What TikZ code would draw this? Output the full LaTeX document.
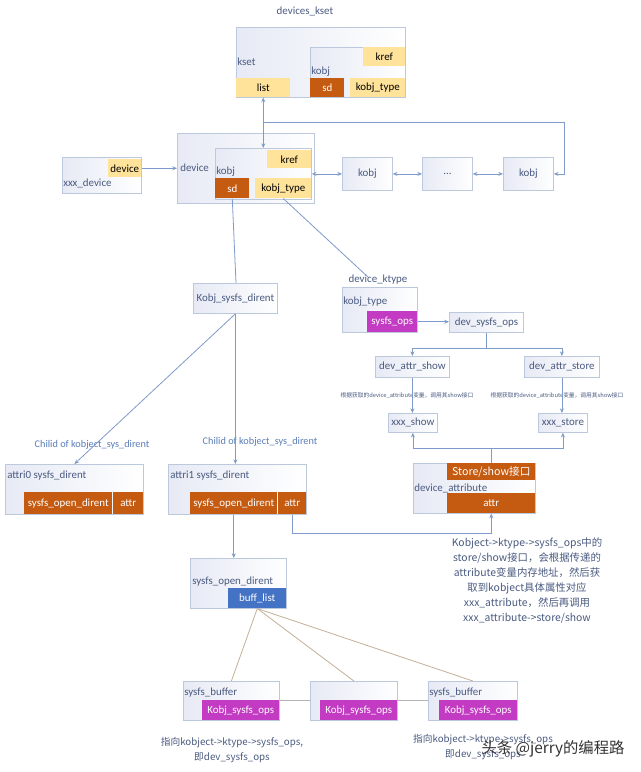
\documentclass[tikz,border=0pt]{standalone}
\usepackage{fontspec}
\setmainfont{Carlito}
\newfontfamily\cjk{Noto Sans CJK SC}
\usetikzlibrary{arrows.meta,calc}
\definecolor{boxline}{HTML}{BCC8DC}
\definecolor{boxl}{HTML}{E7EAF5}
\definecolor{ylw}{HTML}{FFE39B}
\definecolor{org}{HTML}{C55A11}
\definecolor{mag}{HTML}{C23BC2}
\definecolor{blu}{HTML}{4472C4}
\definecolor{lblc}{HTML}{4A5A80}
\definecolor{chc}{HTML}{5A7DB8}
\definecolor{connc}{HTML}{7E9BCB}
\definecolor{tanc}{HTML}{C2B197}
\definecolor{grayc}{HTML}{B4B4B4}
\newcommand\fs{\fontsize{8.2}{10}\selectfont}
\newcommand\myrect[7]{\node[#1,anchor=north west,inner sep=0pt,minimum width=#5*0.75pt,minimum height=#6*0.75pt] (#2) at (#3,#4) {#7};}
\tikzset{
  box/.style={draw=boxline,left color=boxl,right color=white,line width=0.6pt},
  ylwbox/.style={fill=ylw,text=black,font=\fs},
  orgbox/.style={fill=org,text=white,font=\fs},
  magbox/.style={fill=mag,text=white,font=\fs},
  blubox/.style={fill=blu,text=white,font=\fs},
  lbl/.style={text=lblc,anchor=west,inner sep=0pt,font=\fs},
  conn/.style={draw=connc,line width=0.6pt},
  tanline/.style={draw=tanc,line width=0.6pt},
  grayline/.style={draw=grayc,line width=0.8pt},
  >={Stealth[length=3.5pt,width=3pt]}
}
\begin{document}
\begin{tikzpicture}[x=0.75pt,y=-0.75pt]
\fill[white] (0,0) rectangle (640,772);
\useasboundingbox (0,0) rectangle (640,772);

% ---- devices_kset
\node[lbl,anchor=center] (title) at (305,11) {devices\_kset};
\myrect{box}{kset}{236}{27}{169}{70}{}
\myrect{ylwbox}{list}{236}{78}{54}{19}{list}
\myrect{box}{kobjA}{310}{47}{95}{50}{}
\myrect{ylwbox}{krefA}{363}{47}{42}{19}{kref}
\myrect{orgbox}{sdA}{310}{78}{34}{19}{sd}
\myrect{ylwbox}{ktA}{350}{78}{55}{19}{kobj\_type}
\node[lbl] (lkset) at (237,62) {kset};
\node[lbl] (lkobjA) at (311,72) {kobj};

% ---- device row
\myrect{box}{xxxdev}{62}{157}{79}{36}{}
\myrect{ylwbox}{devY}{108}{159}{33}{18}{device}
\node[lbl] (lxxx) at (63,183) {xxx\_device};

\myrect{box}{devO}{177}{133}{137}{70}{}
\myrect{box}{kobjB}{215}{148}{96}{51}{}
\myrect{ylwbox}{krefB}{267}{150}{44}{18}{kref}
\myrect{orgbox}{sdB}{215}{178}{34}{20}{sd}
\myrect{ylwbox}{ktB}{255}{178}{56}{20}{kobj\_type}
\node[lbl] (ldevice) at (180,168) {device};
\node[lbl] (lkobjB) at (216,172) {kobj};

\myrect{box}{kobj1}{342}{157}{50}{33}{\textcolor{lblc}{\fs kobj}}
\myrect{box}{dots}{422}{157}{50}{33}{\textcolor{lblc}{\fs ...}}
\myrect{box}{kobj3}{503}{157}{50}{33}{\textcolor{lblc}{\fs kobj}}

\draw[conn,<->] (list.south) -- (list.south |- kobjB.north);
\coordinate (jn) at (263,122);
\coordinate (jr) at (564,122);
\draw[conn,->] (jn) -- (jr) |- (kobj3.east);
\draw[conn,->] (devY.east) -- (devO.west |- devY.east);
\draw[conn,<->] (kobjB.east) -- (kobj1.west);
\draw[conn,<->] (kobj1.east) -- (dots.west);
\draw[conn,<->] (dots.east) -- (kobj3.west);

% ---- ktype
\node[lbl,anchor=center] (dkt) at (378,280) {device\_ktype};
\myrect{box}{kt2}{342}{287}{75}{45}{}
\myrect{magbox}{sysops}{367}{311}{50}{21}{sysfs\_ops}
\node[lbl] (lkt) at (343,302) {kobj\_type};
\myrect{box}{dso}{449}{312}{74}{20}{\textcolor{lblc}{\fs dev\_sysfs\_ops}}
\myrect{box}{das}{375}{356}{74}{21}{\textcolor{lblc}{\fs dev\_attr\_show}}
\myrect{box}{dast}{524}{356}{75}{21}{\textcolor{lblc}{\fs dev\_attr\_store}}
\node[font=\cjk\fontsize{4.3}{5}\selectfont,text=lblc,inner sep=0pt] (s1) at (407,395) {根据获取的device\_attribute变量，调用其show接口};
\node[font=\cjk\fontsize{4.3}{5}\selectfont,text=lblc,inner sep=0pt] (s2) at (557,395) {根据获取的device\_attribute变量，调用其show接口};
\myrect{box}{xs}{388}{413}{49}{19}{\textcolor{lblc}{\fs xxx\_show}}
\myrect{box}{xst}{538}{413}{49}{19}{\textcolor{lblc}{\fs xxx\_store}}

\draw[conn] (sdB.south) -- (236,283);
\draw[conn] (ktB.south) -- ($(dkt.north)+(-10,2)$);
\draw[conn,->] (sysops.east) -- (dso.west |- sysops.east);
\draw[conn,->] (dso.south) -- ++(0,16) -| (das.north);
\draw[conn,->] (dso.south) -- ++(0,16) -| (dast.north);
\draw[conn,->] (das.south) -- (das.south |- xs.north);
\draw[conn,->] (dast.south) -- (dast.south |- xst.north);

% ---- device_attribute
\myrect{box}{da}{413}{463}{122}{50}{}
\myrect{orgbox}{ss}{447}{463}{88}{17}{\cjk\fontsize{8}{10}\selectfont Store/show接口}
\myrect{orgbox}{at}{447}{493}{88}{20}{attr}
\node[lbl] (lda) at (414,488) {device\_attribute};
\draw[conn,->] (ss.north) -- ++(0,-15) -| (xs.south);
\draw[conn,->] (ss.north) -- ++(0,-15) -| (xst.south);

% ---- sysfs dirents
\myrect{box}{ksd}{193}{283}{84}{30}{\textcolor{lblc}{\fs Kobj\_sysfs\_dirent}}
\node[text=chc,font=\fontsize{7.7}{9}\selectfont] (c0) at (92,445) {Chilid of kobject\_sys\_dirent};
\node[text=chc,font=\fontsize{7.7}{9}\selectfont] (c1) at (260,442) {Chilid of kobject\_sys\_dirent};
\myrect{box}{a0}{5}{464}{138}{50}{}
\myrect{orgbox}{sod0}{24}{492}{88}{22}{sysfs\_open\_dirent}
\myrect{orgbox}{attr0}{113}{492}{30}{22}{attr}
\node[lbl] (la0) at (7,476) {attri0 sysfs\_dirent};
\myrect{box}{a1}{168}{464}{138}{50}{}
\myrect{orgbox}{sod1}{190}{492}{87}{22}{sysfs\_open\_dirent}
\myrect{orgbox}{attr1}{278}{492}{28}{22}{attr}
\node[lbl] (la1) at (170,476) {attri1 sysfs\_dirent};

\draw[conn,->] (ksd.south) -- (a0.north);
\draw[conn,->] (ksd.south) -- (ksd.south |- a1.north);
\draw[conn,->] (attr1.south) -- ++(0,19) -| (at.south);

\node[font=\cjk\fontsize{7.8}{11.25}\selectfont,text=lblc,align=center] (para) at (527,581) {Kobject->ktype->sysfs\_ops中的\\store/show接口，会根据传递的\\attribute变量内存地址，然后获\\取到kobject具体属性对应\\xxx\_attribute，然后再调用\\xxx\_attribute->store/show};

% ---- open dirent and buffers
\myrect{box}{sod}{190}{558}{96}{50}{}
\myrect{blubox}{buff}{228}{588}{58}{20}{buff\_list}
\node[lbl] (lsod) at (192,582) {sysfs\_open\_dirent};
\draw[conn,->] (sod1.south) -- (sod1.south |- sod.north);

\myrect{box}{sb1}{183}{681}{96}{39}{}
\myrect{magbox}{ko1}{202}{700}{77}{20}{Kobj\_sysfs\_ops}
\node[lbl] (lsb1) at (184,693) {sysfs\_buffer};
\myrect{box}{sb2}{310}{681}{87}{39}{}
\myrect{magbox}{ko2}{320}{700}{77}{20}{Kobj\_sysfs\_ops}
\myrect{box}{sb3}{428}{681}{89}{39}{}
\myrect{magbox}{ko3}{439}{700}{78}{20}{Kobj\_sysfs\_ops}
\node[lbl] (lsb3) at (429,693) {sysfs\_buffer};

\draw[tanline] (buff.south) -- (sb1.north);
\draw[tanline] (buff.south) -- (sb2.north);
\draw[tanline] (buff.south) -- (sb3.north);
\draw[grayline] (sb1.east) -- (sb2.west);
\draw[grayline] (sb2.east) -- (sb3.west);

\node[font=\cjk\fontsize{7.3}{11.25}\selectfont,text=lblc,align=center] (n1) at (232,750) {指向kobject->ktype->sysfs\_ops,\\即dev\_sysfs\_ops};
\node[font=\cjk\fontsize{7.3}{11.25}\selectfont,text=lblc,align=center] (n3) at (483,747) {指向kobject->ktype->sysfs\_ops\\即dev\_sysfs\_ops};

\node[font=\cjk\fontsize{11.5}{13}\selectfont,text=black!80] (wm) at (553,749) {头条 @jerry的编程路};
\end{tikzpicture}
\end{document}
